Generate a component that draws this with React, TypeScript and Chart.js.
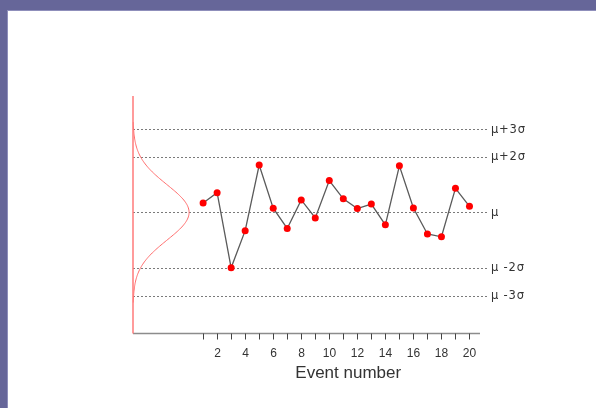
import React, { useEffect, useRef } from 'react';
import { Chart, registerables } from 'chart.js';

Chart.register(...registerables);

// Event index along the run
const EVENTS = [1, 2, 3, 4, 5, 6, 7, 8, 9, 10, 11, 12, 13, 14, 15, 16, 17, 18, 19, 20];
// Measured deviation of each event from the mean, in units of sigma
const DEVIATIONS = [0.34, 0.71, -2.0, -0.66, 1.71, 0.15, -0.58, 0.45, -0.2, 1.15, 0.49, 0.14, 0.3, -0.45, 1.68, 0.16, -0.78, -0.88, 0.87, 0.22];

// x-axis tick marks and their labels
const EVENT_TICKS = [1, 2, 3, 4, 5, 6, 7, 8, 9, 10, 11, 12, 13, 14, 15, 16, 17, 18, 19, 20];
const EVENT_TICK_LABELS = ['', '2', '', '4', '', '6', '', '8', '', '10', '', '12', '', '14', '', '16', '', '18', '', '20'];
const X_TITLE = 'Event number';

// Control limits (sigma multiples) and their labels
const SIGMA_LEVELS = [3, 2, 0, -2, -3];
const SIGMA_LABELS = ['\u03bc+3\u03c3', '\u03bc+2\u03c3', '\u03bc', '\u03bc -2\u03c3', '\u03bc -3\u03c3'];

const FONT = '"Liberation Sans", Arial, sans-serif';
const CURVE_PEAK = 4; // width of the reference bell curve, in x units
const CURVE_SPAN = 3.25; // sigma range covered by the bell curve

const controlDecor = {
  id: 'controlDecor',
  beforeDatasetsDraw(chart: any) {
    const { ctx, chartArea: a, scales } = chart;
    const x = scales.x;
    const y = scales.y;
    ctx.save();

    // dotted control lines
    ctx.strokeStyle = '#7a7a7a';
    ctx.lineWidth = 1;
    ctx.setLineDash([2, 2]);
    SIGMA_LEVELS.forEach((level) => {
      const py = Math.round(y.getPixelForValue(level)) + 0.5;
      ctx.beginPath();
      ctx.moveTo(a.left, py);
      ctx.lineTo(a.right + 8, py);
      ctx.stroke();
    });
    ctx.setLineDash([]);

    // control line labels
    ctx.fillStyle = '#333';
    ctx.font = `11.5px "DejaVu Sans", ${FONT}`;
    (ctx as any).letterSpacing = '0.8px';
    ctx.textAlign = 'left';
    ctx.textBaseline = 'middle';
    SIGMA_LEVELS.forEach((level, i) => {
      ctx.fillText(SIGMA_LABELS[i], a.right + 11, y.getPixelForValue(level) + 0.5);
    });
    (ctx as any).letterSpacing = '0px';

    // reference normal curve on the left
    ctx.strokeStyle = '#ff6b6b';
    ctx.lineWidth = 1;
    ctx.beginPath();
    const steps = 160;
    for (let i = 0; i <= steps; i++) {
      const z = -CURVE_SPAN + (2 * CURVE_SPAN * i) / steps;
      const px = x.getPixelForValue(x.min + CURVE_PEAK * Math.exp(-(z * z) / 2));
      const py = y.getPixelForValue(z);
      if (i === 0) ctx.moveTo(px, py);
      else ctx.lineTo(px, py);
    }
    ctx.stroke();

    // x axis line
    ctx.strokeStyle = '#8c8c8c';
    ctx.lineWidth = 1.5;
    ctx.beginPath();
    ctx.moveTo(a.left, a.bottom);
    ctx.lineTo(a.right, a.bottom);
    ctx.stroke();

    // tick marks and labels
    ctx.strokeStyle = '#444';
    ctx.lineWidth = 1;
    ctx.fillStyle = '#333';
    ctx.font = `12px ${FONT}`;
    ctx.textAlign = 'center';
    ctx.textBaseline = 'alphabetic';
    EVENT_TICKS.forEach((t, i) => {
      const px = Math.round(x.getPixelForValue(t)) + 0.5;
      ctx.beginPath();
      ctx.moveTo(px, a.bottom);
      ctx.lineTo(px, a.bottom + 6);
      ctx.stroke();
      if (EVENT_TICK_LABELS[i]) ctx.fillText(EVENT_TICK_LABELS[i], px, a.bottom + 23);
    });

    // axis title
    ctx.font = `17px ${FONT}`;
    ctx.fillText(X_TITLE, x.getPixelForValue(11.35), a.bottom + 44);

    // red vertical axis
    ctx.strokeStyle = '#ff7a7a';
    ctx.lineWidth = 1.5;
    ctx.beginPath();
    ctx.moveTo(a.left, a.top);
    ctx.lineTo(a.left, a.bottom);
    ctx.stroke();

    ctx.restore();
  },
};

export default function App() {
  const canvasRef = useRef<HTMLCanvasElement | null>(null);

  useEffect(() => {
    document.body.style.margin = '0';
    const canvas = canvasRef.current;
    if (!canvas) return;
    const chart = new Chart(canvas, {
      type: 'line',
      data: {
        datasets: [
          {
            data: EVENTS.map((e, i) => ({ x: e, y: DEVIATIONS[i] })),
            borderColor: '#5a5a5a',
            borderWidth: 1.3,
            pointBackgroundColor: '#ff0000',
            pointBorderColor: '#ff0000',
            pointBorderWidth: 0,
            pointRadius: 3.5,
            tension: 0,
            fill: false,
            clip: false as any,
          },
        ],
      },
      options: {
        responsive: false,
        animation: false,
        devicePixelRatio: 1,
        layout: { padding: { left: 133, right: 116, top: 96, bottom: 74.5 } },
        scales: {
          x: { type: 'linear', min: -4, max: 20.75, display: false },
          y: { type: 'linear', min: -4.37, max: 4.2, display: false },
        },
        plugins: {
          legend: { display: false },
          tooltip: { enabled: false },
        },
      },
      plugins: [controlDecor],
    });
    return () => chart.destroy();
  }, []);

  return (
    <div style={{ position: 'fixed', left: 0, top: 0, width: 596, height: 408, background: '#666699', overflow: 'hidden' }}>
      <div
        style={{
          position: 'absolute',
          left: 7,
          top: 10,
          right: 0,
          bottom: 0,
          background: '#ffffff',
          borderTop: '1px solid #8f8fbb',
          borderLeft: '1px solid #8f8fbb',
        }}
      />
      <canvas ref={canvasRef} width={596} height={408} style={{ position: 'absolute', left: 0, top: 0, width: 596, height: 408 }} />
    </div>
  );
}
